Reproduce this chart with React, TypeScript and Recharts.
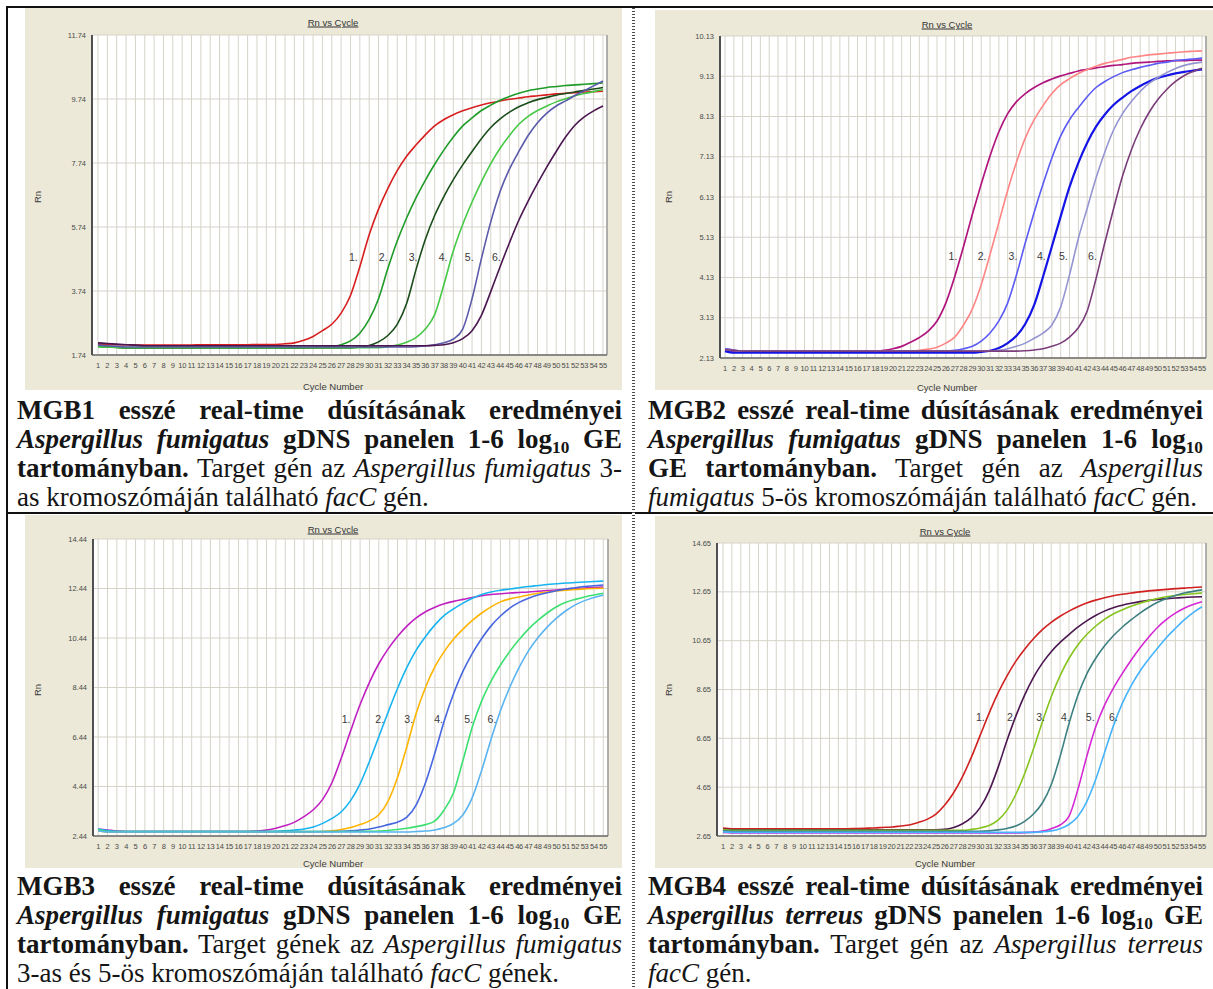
import React from "react";
import { LineChart, Line, XAxis, YAxis, CartesianGrid, ReferenceDot, ReferenceLine } from "recharts";

// ---- shared ----
const CYCLES = [
  1, 2, 3, 4, 5, 6, 7, 8, 9, 10, 11, 12, 13, 14, 15, 16, 17, 18, 19, 20,
  21, 22, 23, 24, 25, 26, 27, 28, 29, 30, 31, 32, 33, 34, 35, 36, 37, 38, 39, 40,
  41, 42, 43, 44, 45, 46, 47, 48, 49, 50, 51, 52, 53, 54, 55,
];
const CURVE_NAMES = ["1.", "2.", "3.", "4.", "5.", "6."];

// ---- MGB1 ----
const MGB1_TICKS = [1.74, 3.74, 5.74, 7.74, 9.74, 11.74];
const MGB1_S1 = [
  2.08, 2.07, 2.06, 2.06, 2.05, 2.05, 2.05, 2.05, 2.05, 2.05,
  2.05, 2.06, 2.06, 2.06, 2.06, 2.06, 2.06, 2.07, 2.07, 2.07,
  2.09, 2.12, 2.2, 2.32, 2.5, 2.7, 3.05, 3.6, 4.5, 5.5,
  6.3, 6.95, 7.5, 7.95, 8.3, 8.62, 8.9, 9.1, 9.25, 9.37,
  9.47, 9.55, 9.62, 9.68, 9.73, 9.77, 9.81, 9.84, 9.87, 9.9,
  9.92, 9.94, 9.96, 9.97, 9.98,
];
const MGB1_S2 = [
  2.0, 1.99, 1.98, 1.97, 1.97, 1.97, 1.97, 1.97, 1.97, 1.97,
  1.97, 1.97, 1.97, 1.97, 1.97, 1.97, 1.97, 1.97, 1.97, 1.97,
  1.97, 1.97, 1.97, 1.98, 1.99, 2.0, 2.06, 2.18, 2.42, 2.85,
  3.5, 4.45, 5.3, 6.02, 6.65, 7.2, 7.7, 8.15, 8.55, 8.9,
  9.15, 9.38, 9.55, 9.7, 9.82, 9.92, 10.0, 10.05, 10.1, 10.13,
  10.16, 10.18, 10.2, 10.22, 10.24,
];
const MGB1_S3 = [
  2.02, 2.0, 1.98, 1.96, 1.96, 1.96, 1.96, 1.96, 1.96, 1.96,
  1.96, 1.96, 1.96, 1.96, 1.96, 1.96, 1.96, 1.96, 1.96, 1.96,
  1.96, 1.96, 1.96, 1.96, 1.96, 1.96, 1.96, 1.96, 1.99, 2.04,
  2.15, 2.35, 2.7, 3.35, 4.4, 5.35, 6.1, 6.7, 7.22, 7.68,
  8.1, 8.5, 8.85, 9.12, 9.33, 9.5, 9.62, 9.72, 9.79, 9.86,
  9.91, 9.96, 10.01, 10.05, 10.1,
];
const MGB1_S4 = [
  2.0, 1.99, 1.97, 1.97, 1.97, 1.97, 1.97, 1.97, 1.97, 1.97,
  1.97, 1.97, 1.97, 1.97, 1.97, 1.97, 1.97, 1.97, 1.97, 1.97,
  1.97, 1.97, 1.97, 1.97, 1.97, 1.97, 1.97, 1.97, 1.97, 1.97,
  1.97, 2.0, 2.05, 2.14, 2.28, 2.55, 3.0, 3.95, 5.0, 5.82,
  6.52, 7.15, 7.72, 8.2, 8.6, 8.95, 9.2, 9.38, 9.52, 9.65,
  9.75, 9.84, 9.91, 9.97, 10.04,
];
const MGB1_S5 = [
  2.05, 2.03, 2.01, 1.99, 1.99, 1.99, 1.99, 1.99, 1.99, 1.99,
  1.99, 1.99, 1.99, 1.99, 1.99, 1.99, 1.99, 1.99, 1.99, 1.99,
  1.99, 1.99, 1.99, 1.99, 1.99, 1.99, 1.99, 1.99, 1.99, 1.99,
  1.99, 1.99, 1.99, 1.99, 2.0, 2.02, 2.06, 2.12, 2.24, 2.55,
  3.5, 4.75, 5.9, 6.85, 7.55, 8.1, 8.6, 9.0, 9.3, 9.52,
  9.68, 9.85, 10.0, 10.15, 10.3,
];
const MGB1_S6 = [
  2.12, 2.1, 2.08, 2.06, 2.05, 2.03, 2.03, 2.03, 2.03, 2.03,
  2.03, 2.03, 2.03, 2.03, 2.03, 2.03, 2.03, 2.03, 2.03, 2.03,
  2.03, 2.03, 2.03, 2.03, 2.03, 2.03, 2.03, 2.03, 2.03, 2.03,
  2.03, 2.03, 2.03, 2.03, 2.03, 2.03, 2.04, 2.06, 2.12, 2.25,
  2.5, 2.98, 3.72, 4.5, 5.25, 5.95, 6.55, 7.1, 7.62, 8.1,
  8.55, 8.92, 9.18, 9.37, 9.52,
];
const MGB1_COLORS = ["#d81e1e", "#1e9b28", "#1a4d1a", "#46c846", "#5a5aaa", "#4b1650"];
const MGB1_LABEL_CYCLES = [28.3, 31.5, 34.7, 37.9, 40.7, 43.6];
const MGB1_LABEL_RN = 4.8;

// ---- MGB2 ----
const MGB2_TICKS = [2.13, 3.13, 4.13, 5.13, 6.13, 7.13, 8.13, 9.13, 10.13];
const MGB2_S1 = [
  2.32, 2.3, 2.28, 2.28, 2.28, 2.28, 2.28, 2.28, 2.28, 2.28,
  2.28, 2.28, 2.28, 2.28, 2.28, 2.28, 2.29, 2.3, 2.32, 2.36,
  2.42, 2.52, 2.64, 2.8, 3.05, 3.5, 4.15, 4.9, 5.7, 6.45,
  7.15, 7.75, 8.2, 8.5, 8.7, 8.85, 8.97, 9.06, 9.14, 9.2,
  9.26, 9.3, 9.34, 9.37, 9.4, 9.42, 9.45, 9.47, 9.48, 9.5,
  9.51, 9.52, 9.52, 9.53, 9.53,
];
const MGB2_S2 = [
  2.35, 2.33, 2.3, 2.3, 2.3, 2.3, 2.3, 2.3, 2.3, 2.3,
  2.3, 2.3, 2.3, 2.3, 2.3, 2.3, 2.3, 2.3, 2.3, 2.3,
  2.3, 2.3, 2.32, 2.35, 2.4, 2.5, 2.65, 2.95, 3.35, 3.95,
  4.7, 5.5, 6.3, 7.0, 7.6, 8.05, 8.4, 8.7, 8.92, 9.07,
  9.2, 9.3, 9.38, 9.45, 9.5, 9.55, 9.6, 9.63, 9.66, 9.68,
  9.7, 9.72, 9.74, 9.75, 9.76,
];
const MGB2_S3 = [
  2.36, 2.33, 2.3, 2.3, 2.3, 2.3, 2.3, 2.3, 2.3, 2.3,
  2.3, 2.3, 2.3, 2.3, 2.3, 2.3, 2.3, 2.3, 2.3, 2.3,
  2.3, 2.3, 2.3, 2.3, 2.3, 2.3, 2.32, 2.36, 2.42, 2.55,
  2.75, 3.05, 3.5, 4.2, 5.0, 5.75, 6.45, 7.1, 7.65, 8.05,
  8.35, 8.62, 8.85, 9.0, 9.12, 9.22, 9.29, 9.35, 9.4, 9.45,
  9.48, 9.52, 9.54, 9.56, 9.58,
];
const MGB2_S4 = [
  2.3, 2.26, 2.26, 2.26, 2.26, 2.26, 2.26, 2.26, 2.26, 2.26,
  2.26, 2.26, 2.26, 2.26, 2.26, 2.26, 2.26, 2.26, 2.26, 2.26,
  2.26, 2.26, 2.26, 2.26, 2.26, 2.26, 2.26, 2.26, 2.26, 2.28,
  2.31, 2.38, 2.5, 2.68, 2.98, 3.45, 4.15, 4.9, 5.65, 6.38,
  6.98, 7.48, 7.88, 8.18, 8.42, 8.6, 8.76, 8.89, 9.0, 9.09,
  9.15, 9.2, 9.24, 9.27, 9.3,
];
const MGB2_S5 = [
  2.34, 2.32, 2.3, 2.3, 2.3, 2.3, 2.3, 2.3, 2.3, 2.3,
  2.3, 2.3, 2.3, 2.3, 2.3, 2.3, 2.3, 2.3, 2.3, 2.3,
  2.3, 2.3, 2.3, 2.3, 2.3, 2.3, 2.3, 2.3, 2.3, 2.3,
  2.3, 2.32, 2.36, 2.42, 2.5, 2.62, 2.75, 2.95, 3.4, 4.2,
  5.1, 5.85, 6.6, 7.25, 7.8, 8.2, 8.5, 8.75, 8.95, 9.1,
  9.22, 9.32, 9.4, 9.45, 9.48,
];
const MGB2_S6 = [
  2.34, 2.32, 2.3, 2.3, 2.3, 2.3, 2.3, 2.3, 2.3, 2.3,
  2.3, 2.3, 2.3, 2.3, 2.3, 2.3, 2.3, 2.3, 2.3, 2.3,
  2.3, 2.3, 2.3, 2.3, 2.3, 2.3, 2.3, 2.3, 2.3, 2.3,
  2.3, 2.3, 2.3, 2.3, 2.31, 2.33, 2.36, 2.42, 2.5, 2.65,
  2.88, 3.3, 4.1, 5.0, 5.85, 6.65, 7.3, 7.82, 8.23, 8.55,
  8.8, 9.0, 9.15, 9.25, 9.33,
];
const MGB2_COLORS = ["#b0157e", "#ff8585", "#5a5af5", "#1414e6", "#9494d2", "#7a3c7a"];
const MGB2_LABEL_CYCLES = [26.8, 30.1, 33.6, 36.8, 39.3, 42.6];
const MGB2_LABEL_RN = 4.66;

// ---- MGB3 ----
const MGB3_TICKS = [2.44, 4.44, 6.44, 8.44, 10.44, 12.44, 14.44];
const MGB3_S1 = [
  2.72, 2.68, 2.64, 2.62, 2.62, 2.62, 2.62, 2.62, 2.62, 2.62,
  2.62, 2.62, 2.62, 2.62, 2.62, 2.62, 2.62, 2.64, 2.68, 2.75,
  2.86, 3.0, 3.22, 3.5, 3.92, 4.6, 5.6, 6.7, 7.75, 8.65,
  9.4, 10.0, 10.5, 10.92, 11.25, 11.5, 11.68, 11.82, 11.92, 12.0,
  12.08, 12.15, 12.2, 12.23, 12.26, 12.28, 12.3, 12.33, 12.36, 12.38,
  12.41, 12.43, 12.46, 12.48, 12.5,
];
const MGB3_S2 = [
  2.72, 2.66, 2.62, 2.62, 2.62, 2.62, 2.62, 2.62, 2.62, 2.62,
  2.62, 2.62, 2.62, 2.62, 2.62, 2.62, 2.62, 2.62, 2.62, 2.63,
  2.65, 2.68, 2.72, 2.8, 2.95, 3.15, 3.42, 3.88, 4.55, 5.45,
  6.45, 7.45, 8.4, 9.25, 9.95, 10.5, 10.97, 11.35, 11.62, 11.85,
  12.05, 12.2, 12.3, 12.37, 12.42, 12.47, 12.52, 12.56, 12.6, 12.63,
  12.66, 12.68, 12.7, 12.72, 12.74,
];
const MGB3_S3 = [
  2.65, 2.6, 2.6, 2.6, 2.6, 2.6, 2.6, 2.6, 2.6, 2.6,
  2.6, 2.6, 2.6, 2.6, 2.6, 2.6, 2.6, 2.6, 2.6, 2.6,
  2.6, 2.6, 2.6, 2.61, 2.62, 2.65, 2.7, 2.78, 2.9, 3.05,
  3.3, 3.85, 4.8, 6.05, 7.4, 8.45, 9.28, 9.9, 10.4, 10.8,
  11.15, 11.45, 11.7, 11.9, 12.02, 12.1, 12.18, 12.25, 12.3, 12.34,
  12.37, 12.4, 12.42, 12.44, 12.45,
];
const MGB3_S4 = [
  2.68, 2.62, 2.62, 2.62, 2.62, 2.62, 2.62, 2.62, 2.62, 2.62,
  2.62, 2.62, 2.62, 2.62, 2.62, 2.62, 2.62, 2.62, 2.62, 2.62,
  2.62, 2.62, 2.62, 2.62, 2.62, 2.62, 2.63, 2.65, 2.68, 2.72,
  2.8, 2.9, 3.0, 3.2, 3.7, 4.6, 5.8, 7.1, 8.2, 9.1,
  9.82, 10.42, 10.93, 11.33, 11.65, 11.88, 12.05, 12.18, 12.27, 12.35,
  12.42, 12.47, 12.52, 12.55, 12.58,
];
const MGB3_S5 = [
  2.7, 2.62, 2.62, 2.62, 2.62, 2.62, 2.62, 2.62, 2.62, 2.62,
  2.62, 2.62, 2.62, 2.62, 2.62, 2.62, 2.62, 2.62, 2.62, 2.62,
  2.62, 2.62, 2.62, 2.62, 2.62, 2.62, 2.62, 2.62, 2.62, 2.63,
  2.64, 2.66, 2.7, 2.75, 2.82, 2.9, 3.05, 3.5, 4.2, 5.5,
  6.85, 7.9, 8.7, 9.35, 9.9, 10.38, 10.8, 11.15, 11.45, 11.7,
  11.88, 12.0, 12.1, 12.18, 12.25,
];
const MGB3_S6 = [
  2.65, 2.6, 2.6, 2.6, 2.6, 2.6, 2.6, 2.6, 2.6, 2.6,
  2.6, 2.6, 2.6, 2.6, 2.6, 2.6, 2.6, 2.6, 2.6, 2.6,
  2.6, 2.6, 2.6, 2.6, 2.6, 2.6, 2.6, 2.6, 2.6, 2.6,
  2.6, 2.6, 2.6, 2.6, 2.62, 2.64, 2.68, 2.78, 2.95, 3.3,
  4.0, 5.1, 6.35, 7.5, 8.45, 9.25, 9.92, 10.45, 10.88, 11.24,
  11.54, 11.78, 11.95, 12.08, 12.18,
];
const MGB3_COLORS = ["#c020c0", "#18b4f0", "#ffb400", "#4666e0", "#3ce070", "#5ab4f0"];
const MGB3_LABEL_CYCLES = [27.5, 31.1, 34.2, 37.4, 40.6, 43.1];
const MGB3_LABEL_RN = 7.17;

// ---- MGB4 ----
const MGB4_TICKS = [2.65, 4.65, 6.65, 8.65, 10.65, 12.65, 14.65];
const MGB4_S1 = [
  2.98, 2.95, 2.95, 2.95, 2.95, 2.95, 2.95, 2.95, 2.95, 2.95,
  2.95, 2.95, 2.95, 2.95, 2.95, 2.96, 2.97, 2.98, 3.0, 3.02,
  3.06, 3.1, 3.2, 3.33, 3.55, 3.92, 4.42, 5.08, 5.88, 6.78,
  7.68, 8.5, 9.2, 9.8, 10.3, 10.73, 11.1, 11.4, 11.65, 11.86,
  12.04, 12.19, 12.31, 12.41, 12.49, 12.55, 12.6, 12.65, 12.69, 12.72,
  12.75, 12.78, 12.8, 12.83, 12.85,
];
const MGB4_S2 = [
  2.92, 2.9, 2.9, 2.9, 2.9, 2.9, 2.9, 2.9, 2.9, 2.9,
  2.9, 2.9, 2.9, 2.9, 2.9, 2.9, 2.9, 2.9, 2.9, 2.9,
  2.9, 2.9, 2.9, 2.9, 2.9, 2.92, 3.0, 3.15, 3.4, 3.82,
  4.5, 5.45, 6.55, 7.55, 8.42, 9.15, 9.73, 10.2, 10.58, 10.9,
  11.2, 11.46, 11.68, 11.86, 12.0, 12.1, 12.18, 12.25, 12.3, 12.34,
  12.37, 12.4, 12.42, 12.44, 12.45,
];
const MGB4_S3 = [
  2.9, 2.88, 2.88, 2.88, 2.88, 2.88, 2.88, 2.88, 2.88, 2.88,
  2.88, 2.88, 2.88, 2.88, 2.88, 2.88, 2.88, 2.88, 2.88, 2.88,
  2.88, 2.88, 2.88, 2.88, 2.88, 2.88, 2.88, 2.88, 2.92, 2.98,
  3.08, 3.3, 3.7, 4.35, 5.2, 6.22, 7.32, 8.35, 9.22, 9.92,
  10.47, 10.9, 11.24, 11.52, 11.74, 11.91, 12.06, 12.18, 12.29, 12.38,
  12.45, 12.5, 12.54, 12.57, 12.6,
];
const MGB4_S4 = [
  2.86, 2.84, 2.84, 2.84, 2.84, 2.84, 2.84, 2.84, 2.84, 2.84,
  2.84, 2.84, 2.84, 2.84, 2.84, 2.84, 2.84, 2.84, 2.84, 2.84,
  2.84, 2.84, 2.84, 2.84, 2.84, 2.84, 2.84, 2.84, 2.84, 2.84,
  2.86, 2.9, 2.96, 3.06, 3.25, 3.55, 4.0, 4.75, 5.9, 7.25,
  8.4, 9.28, 9.92, 10.43, 10.85, 11.2, 11.5, 11.78, 12.02, 12.22,
  12.38, 12.5, 12.6, 12.67, 12.73,
];
const MGB4_S5 = [
  2.8, 2.78, 2.78, 2.78, 2.78, 2.78, 2.78, 2.78, 2.78, 2.78,
  2.78, 2.78, 2.78, 2.78, 2.78, 2.78, 2.78, 2.78, 2.78, 2.78,
  2.78, 2.78, 2.78, 2.78, 2.78, 2.78, 2.78, 2.78, 2.78, 2.78,
  2.78, 2.78, 2.78, 2.78, 2.79, 2.81, 2.85, 2.95, 3.1, 3.45,
  4.55, 5.9, 7.1, 8.0, 8.7, 9.3, 9.85, 10.35, 10.8, 11.2,
  11.52, 11.78, 11.98, 12.13, 12.24,
];
const MGB4_S6 = [
  2.82, 2.8, 2.8, 2.8, 2.8, 2.8, 2.8, 2.8, 2.8, 2.8,
  2.8, 2.8, 2.8, 2.8, 2.8, 2.8, 2.8, 2.8, 2.8, 2.8,
  2.8, 2.8, 2.8, 2.8, 2.8, 2.8, 2.8, 2.8, 2.8, 2.8,
  2.8, 2.8, 2.8, 2.8, 2.8, 2.8, 2.82, 2.86, 2.95, 3.12,
  3.45, 4.05, 4.95, 6.05, 7.15, 8.07, 8.8, 9.4, 9.9, 10.35,
  10.78, 11.15, 11.5, 11.8, 12.04,
];
const MGB4_COLORS = ["#d02020", "#4b1650", "#86c41e", "#3c8080", "#d428d4", "#46b4fa"];
const MGB4_LABEL_CYCLES = [30.0, 33.5, 36.8, 39.6, 42.4, 45.0];
const MGB4_LABEL_RN = 7.53;

// ---- captions ----
type Seg = [string, "b" | "bi" | "i" | "r" | "sub"];
const CAPTION_1: Seg[][] = [
  [["MGB1 esszé real-time dúsításának eredményei", "b"]],
  [["Aspergillus fumigatus", "bi"], [" gDNS panelen 1-6 log", "b"], ["10", "sub"], [" GE", "b"]],
  [["tartományban.", "b"], [" Target gén az ", "r"], ["Aspergillus fumigatus", "i"], [" 3-", "r"]],
  [["as kromoszómáján található ", "r"], ["facC", "i"], [" gén.", "r"]],
];
const CAPTION_2: Seg[][] = [
  [["MGB2 esszé real-time dúsításának eredményei", "b"]],
  [["Aspergillus fumigatus", "bi"], [" gDNS panelen 1-6 log", "b"], ["10", "sub"]],
  [["GE tartományban.", "b"], [" Target gén az ", "r"], ["Aspergillus", "i"]],
  [["fumigatus", "i"], [" 5-ös kromoszómáján található ", "r"], ["facC", "i"], [" gén.", "r"]],
];
const CAPTION_3: Seg[][] = [
  [["MGB3 esszé real-time dúsításának eredményei", "b"]],
  [["Aspergillus fumigatus", "bi"], [" gDNS panelen 1-6 log", "b"], ["10", "sub"], [" GE", "b"]],
  [["tartományban.", "b"], [" Target gének az ", "r"], ["Aspergillus fumigatus", "i"]],
  [["3-as és 5-ös kromoszómáján található ", "r"], ["facC", "i"], [" gének.", "r"]],
];
const CAPTION_4: Seg[][] = [
  [["MGB4 esszé real-time dúsításának eredményei", "b"]],
  [["Aspergillus terreus", "bi"], [" gDNS panelen 1-6 log", "b"], ["10", "sub"], [" GE", "b"]],
  [["tartományban.", "b"], [" Target gén az ", "r"], ["Aspergillus terreus", "i"]],
  [["facC", "i"], [" gén.", "r"]],
];

const BEIGE = "#ece9d8";
const SANS = "'Liberation Sans', Arial, sans-serif";
const SERIF = "'Liberation Serif', 'Times New Roman', serif";

function buildRows(series: number[][]) {
  return CYCLES.map((c, i) => {
    const row: Record<string, number> = { cycle: c };
    series.forEach((s, j) => {
      row["s" + j] = s[i];
    });
    return row;
  });
}

type Panel = {
  left: number; top: number; width: number; height: number;
  margin: { top: number; right: number; bottom: number; left: number };
  yWidth: number;
  xDomain: [number, number];
  yTicks: number[];
  series: number[][];
  colors: string[];
  widths?: number[];
  labelCycles: number[];
  labelRn: number;
  title: [number, number];
  rn: [number, number];
  cn: [number, number];
};

const PANELS: Panel[] = [
  {
    left: 25, top: 8, width: 597, height: 382,
    margin: { top: 27, right: 15, bottom: 15, left: 7 }, yWidth: 60,
    xDomain: [0.36, 55.43], yTicks: MGB1_TICKS,
    series: [MGB1_S1, MGB1_S2, MGB1_S3, MGB1_S4, MGB1_S5, MGB1_S6],
    colors: MGB1_COLORS, labelCycles: MGB1_LABEL_CYCLES, labelRn: MGB1_LABEL_RN,
    title: [308, 14], rn: [12, 189], cn: [308, 378],
  },
  {
    left: 655, top: 10, width: 558, height: 380,
    margin: { top: 26, right: 7, bottom: 12, left: 7 }, yWidth: 58,
    xDomain: [0.43, 55.45], yTicks: MGB2_TICKS,
    series: [MGB2_S1, MGB2_S2, MGB2_S3, MGB2_S4, MGB2_S5, MGB2_S6],
    colors: MGB2_COLORS, widths: [1.7, 1.6, 1.6, 2.2, 1.6, 1.6],
    labelCycles: MGB2_LABEL_CYCLES, labelRn: MGB2_LABEL_RN,
    title: [292, 14], rn: [13, 187], cn: [292, 377],
  },
  {
    left: 25, top: 515, width: 597, height: 353,
    margin: { top: 24, right: 14, bottom: 12, left: 7 }, yWidth: 61,
    xDomain: [0.45, 55.5], yTicks: MGB3_TICKS,
    series: [MGB3_S1, MGB3_S2, MGB3_S3, MGB3_S4, MGB3_S5, MGB3_S6],
    colors: MGB3_COLORS, labelCycles: MGB3_LABEL_CYCLES, labelRn: MGB3_LABEL_RN,
    title: [308, 14], rn: [12, 175], cn: [308, 348],
  },
  {
    left: 655, top: 516, width: 558, height: 352,
    margin: { top: 27, right: 7, bottom: 12, left: 7 }, yWidth: 55,
    xDomain: [0.32, 55.45], yTicks: MGB4_TICKS,
    series: [MGB4_S1, MGB4_S2, MGB4_S3, MGB4_S4, MGB4_S5, MGB4_S6],
    colors: MGB4_COLORS, labelCycles: MGB4_LABEL_CYCLES, labelRn: MGB4_LABEL_RN,
    title: [290, 15], rn: [13, 174], cn: [290, 347],
  },
];

const smallText = (x: number, y: number, extra?: React.CSSProperties): React.CSSProperties => ({
  position: "absolute",
  left: x,
  top: y,
  transform: "translate(-50%, -50%)",
  fontFamily: SANS,
  fontSize: 9.5,
  color: "#3c3c3c",
  whiteSpace: "nowrap",
  ...extra,
});

function RnChart({ p }: { p: Panel }) {
  const rows = buildRows(p.series);
  const yMin = p.yTicks[0];
  const yMax = p.yTicks[p.yTicks.length - 1];
  return (
    <div style={{ position: "absolute", left: p.left, top: p.top, width: p.width, height: p.height, background: BEIGE }}>
      <LineChart width={p.width} height={p.height} data={rows} margin={p.margin}>
        <CartesianGrid stroke="#d6d3c9" fill="#ffffff" fillOpacity={1} />
        <XAxis
          type="number"
          dataKey="cycle"
          domain={p.xDomain}
          ticks={CYCLES}
          interval={0}
          allowDataOverflow
          height={20}
          tickLine={false}
          tickSize={0}
          tickMargin={8}
          axisLine={{ stroke: "#6a6a6a", strokeWidth: 1.6 }}
          tick={{ fontSize: 7.5, fill: "#4a4a4a", fontFamily: SANS, letterSpacing: -0.2 }}
        />
        <YAxis
          type="number"
          domain={[yMin, yMax]}
          ticks={p.yTicks}
          interval={0}
          allowDataOverflow
          width={p.yWidth}
          tickLine={false}
          tickSize={0}
          tickMargin={6}
          axisLine={{ stroke: "#505050", strokeWidth: 2 }}
          tick={{ fontSize: 7.5, fill: "#4a4a4a", fontFamily: SANS }}
          tickFormatter={(v: number) => v.toFixed(2)}
        />
        <ReferenceLine x={p.xDomain[1]} stroke="#9c9c9c" strokeWidth={1.5} />
        {p.series.map((_, j) => (
          <Line
            key={j}
            type="monotone"
            dataKey={"s" + j}
            stroke={p.colors[j]}
            strokeWidth={p.widths ? p.widths[j] : 1.6}
            dot={false}
            activeDot={false}
            isAnimationActive={false}
          />
        ))}
        {p.labelCycles.map((c, j) => (
          <ReferenceDot
            key={"l" + j}
            x={c}
            y={p.labelRn}
            r={0}
            fill="none"
            stroke="none"
            label={{ value: CURVE_NAMES[j], position: "center", fill: "#3a3a3a", fontSize: 10.5, fontFamily: SANS }}
          />
        ))}
      </LineChart>
      <div style={smallText(p.title[0], p.title[1], { textDecoration: "underline", color: "#333" })}>Rn vs Cycle</div>
      <div style={smallText(p.rn[0], p.rn[1], { transform: "translate(-50%, -50%) rotate(-90deg)" })}>Rn</div>
      <div style={smallText(p.cn[0], p.cn[1])}>Cycle Number</div>
    </div>
  );
}

function segStyle(kind: Seg[1]): React.CSSProperties {
  switch (kind) {
    case "b":
      return { fontWeight: "bold" };
    case "bi":
      return { fontWeight: "bold", fontStyle: "italic" };
    case "i":
      return { fontStyle: "italic" };
    case "sub":
      return { fontWeight: "bold", fontSize: "0.64em", verticalAlign: "-0.28em", lineHeight: 0 };
    default:
      return {};
  }
}

function Caption({ lines, left, top, width }: { lines: Seg[][]; left: number; top: number; width: number }) {
  return (
    <div style={{ position: "absolute", left, top, width, fontFamily: SERIF, fontSize: 27, lineHeight: "29px", color: "#151515" }}>
      {lines.map((line, i) => {
        const last = i === lines.length - 1;
        return (
          <div
            key={i}
            style={{
              textAlign: last ? "left" : "justify",
              textAlignLast: last ? "left" : "justify",
              whiteSpace: last ? "nowrap" : "normal",
              height: 29,
            }}
          >
            {line.map((s, k) => (
              <span key={k} style={segStyle(s[1])}>{s[0]}</span>
            ))}
          </div>
        );
      })}
    </div>
  );
}

export default function App() {
  return (
    <div style={{ position: "absolute", left: 0, top: 0, width: 1213, height: 989, background: "#ffffff", overflow: "hidden" }}>
      {PANELS.map((p, i) => (
        <RnChart key={i} p={p} />
      ))}
      <Caption lines={CAPTION_1} left={17} top={396} width={605} />
      <Caption lines={CAPTION_2} left={648} top={396} width={555} />
      <Caption lines={CAPTION_3} left={17} top={872} width={605} />
      <Caption lines={CAPTION_4} left={648} top={872} width={555} />
      {/* table rules */}
      <div style={{ position: "absolute", left: 6, top: 6, width: 1207, height: 2, background: "#111" }} />
      <div style={{ position: "absolute", left: 6, top: 6, width: 2, height: 983, background: "#111" }} />
      <div style={{ position: "absolute", left: 6, top: 512, width: 1207, height: 2, background: "#111" }} />
      <div
        style={{
          position: "absolute",
          left: 632,
          top: 8,
          width: 3,
          height: 981,
          background: "repeating-linear-gradient(to bottom, #4a4a4a 0px, #4a4a4a 1.5px, #ffffff 1.5px, #ffffff 3px)",
        }}
      />
    </div>
  );
}
